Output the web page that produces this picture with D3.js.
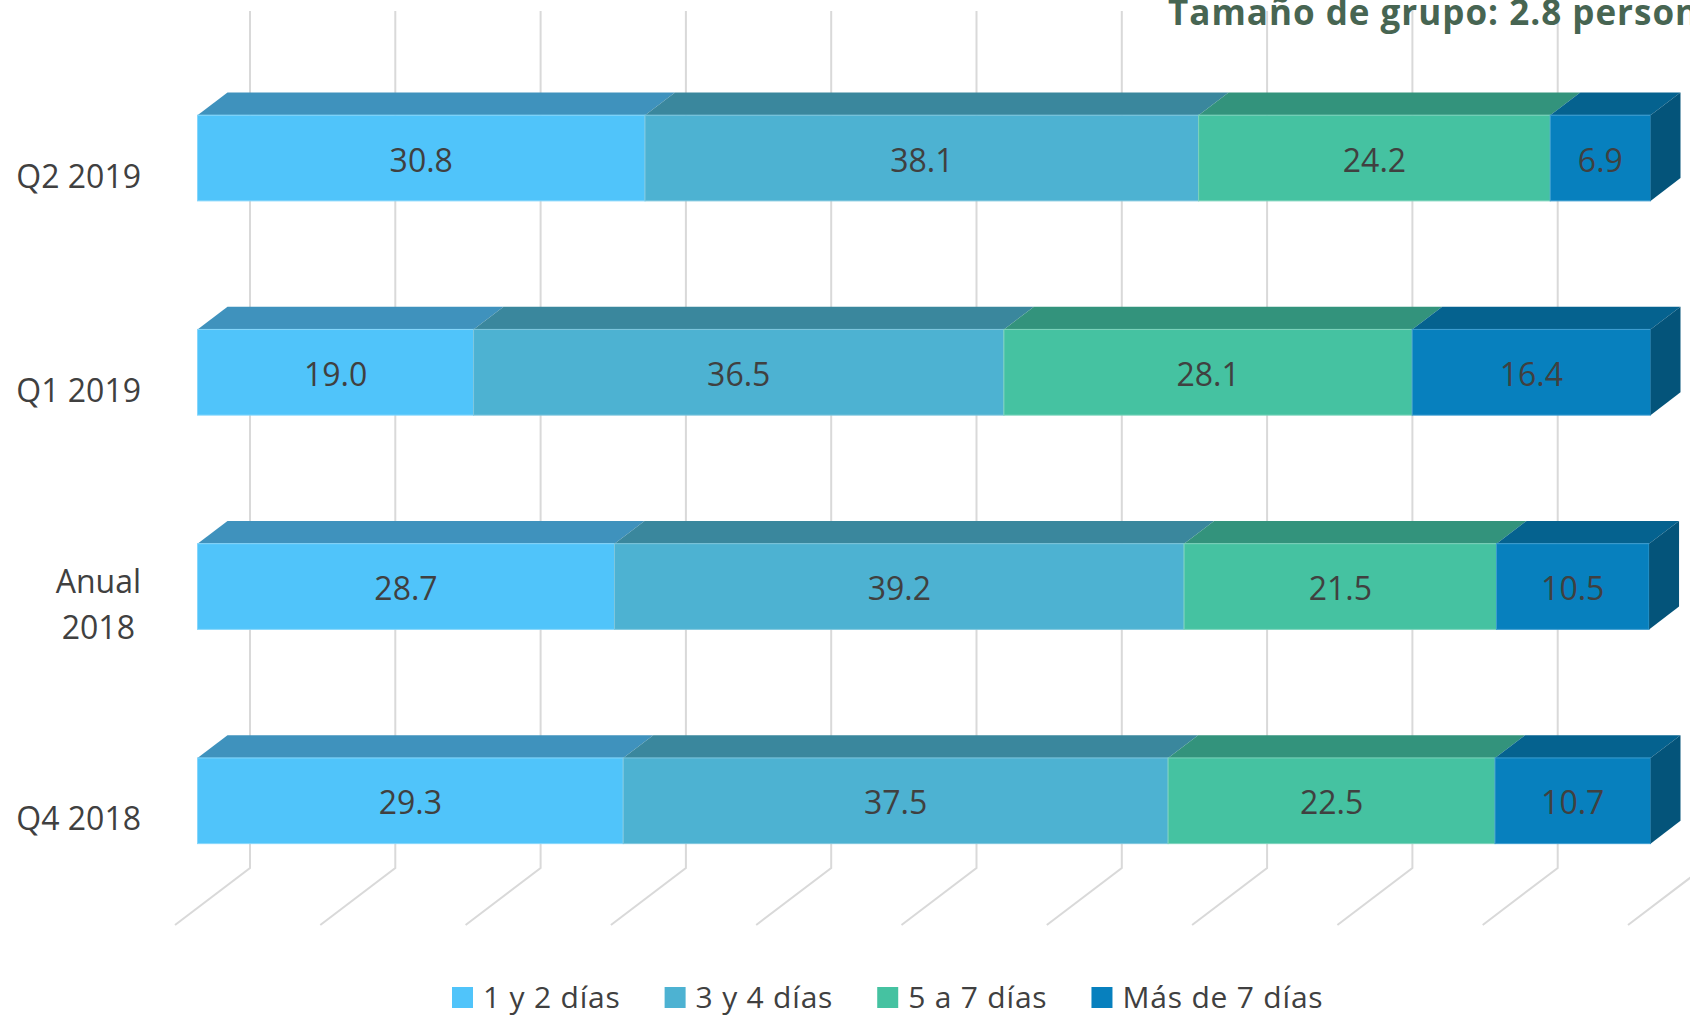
<!DOCTYPE html>
<html>
<head>
<meta charset="utf-8">
<script src="https://cdn.jsdelivr.net/npm/d3@7"></script>
<style>
  html, body { margin: 0; padding: 0; background: #fff; overflow: hidden; }
  svg { display: block; font-family: "Open Sans", sans-serif; }
</style>
</head>
<body>
<svg id="chart" width="1690" height="1017"></svg>
<script>
// categories (top to bottom) and series
const categories = ["Q2 2019", "Q1 2019", "Anual\n2018", "Q4 2018"];
const seriesNames = ["1 y 2 días", "3 y 4 días", "5 a 7 días", "Más de 7 días"];

// values in %, one array per series, in category order
const dias1a2 = [30.8, 19.0, 28.7, 29.3];
const dias3a4 = [38.1, 36.5, 39.2, 37.5];
const dias5a7 = [24.2, 28.1, 21.5, 22.5];
const diasMas7 = [6.9, 16.4, 10.5, 10.7];

const valueTicks = [0, 10, 20, 30, 40, 50, 60, 70, 80, 90, 100];
const titleText = "Tamaño de grupo: 2.8 personas";

// colours: front face, top face, side face
const frontColors = ["#50c4fa", "#4db2d2", "#45c2a1", "#0780be"];
const topColors = ["#3f92bd", "#3a879d", "#33937c", "#05628f"];
const sideColors = ["#328fbf", "#2e7f96", "#2b8a70", "#04547a"];
const edgeColors = ["#86d6fb", "#7ec6dd", "#7cd3bb", "#3d9dd0"];

const seriesValues = [dias1a2, dias3a4, dias5a7, diasMas7];

// table for the stack
const table = categories.map((c, i) => {
  const row = { cat: c };
  seriesNames.forEach((s, j) => { row[s] = seriesValues[j][i]; });
  return row;
});
const stacked = d3.stack().keys(seriesNames)(table);

const svg = d3.select("#chart");

// 3D projection: depth vector of the whole floor
const DX = 75, DY = -57;
const dFront = 0.3, dBack = 0.7;   // bar sits in the middle of the depth

const x = d3.scaleLinear().domain([0, 100]).range([175, 1628]);
const y = d3.scaleBand().domain(categories).range([68, 925])
  .paddingInner(0.6).paddingOuter(0.3);
const bw = y.bandwidth();

// back wall + floor gridlines
const grid = svg.append("g");
grid.selectAll("path")
  .data(valueTicks)
  .enter()
  .append("path")
  .attr("d", v => {
    const xb = x(v) + DX;
    return `M${xb},${68 + DY} L${xb},${925 + DY} L${x(v)},925`;
  })
  .attr("fill", "none")
  .attr("stroke", "#d9d9d9")
  .attr("stroke-width", 2);

// bars
const fx = dFront * DX, fy = dFront * DY;
const bx = dBack * DX, by = dBack * DY;

const layers = svg.append("g").selectAll("g")
  .data(stacked)
  .enter()
  .append("g");

// top faces
layers.selectAll("path.top")
  .data((d, j) => d.map(p => ({ p, j })))
  .enter()
  .append("path")
  .attr("class", "top")
  .attr("d", ({ p }) => {
    const yt = y(p.data.cat);
    const x0 = x(p[0]), x1 = x(p[1]);
    return `M${x0 + fx},${yt + fy} L${x1 + fx},${yt + fy} L${x1 + bx},${yt + by} L${x0 + bx},${yt + by}Z`;
  })
  .attr("fill", d => topColors[d.j]);

// front faces
layers.selectAll("rect.front")
  .data((d, j) => d.map(p => ({ p, j })))
  .enter()
  .append("rect")
  .attr("class", "front")
  .attr("x", ({ p }) => x(p[0]) + fx)
  .attr("y", ({ p }) => y(p.data.cat) + fy)
  .attr("width", ({ p }) => x(p[1]) - x(p[0]))
  .attr("height", bw)
  .attr("fill", d => frontColors[d.j])
  .attr("stroke", d => edgeColors[d.j])
  .attr("stroke-width", 1);

// right side of the last segment
const last = stacked[stacked.length - 1];
svg.append("g").selectAll("path")
  .data(last)
  .enter()
  .append("path")
  .attr("d", p => {
    const yt = y(p.data.cat);
    const x1 = x(p[1]);
    return `M${x1 + fx},${yt + fy} L${x1 + bx},${yt + by} L${x1 + bx},${yt + by + bw} L${x1 + fx},${yt + fy + bw}Z`;
  })
  .attr("fill", sideColors[sideColors.length - 1]);

// value labels
layers.selectAll("text")
  .data((d, j) => d.map(p => ({ p, j })))
  .enter()
  .append("text")
  .attr("x", ({ p }) => (x(p[0]) + x(p[1])) / 2 + fx)
  .attr("y", ({ p }) => y(p.data.cat) + fy + bw / 2 + 1)
  .attr("text-anchor", "middle")
  .attr("dominant-baseline", "central")
  .style("font-size", "32px")
  .attr("fill", "#404040")
  .text(({ p }) => (p[1] - p[0]).toFixed(1));

// category labels (front plane), right-aligned block, lines centred
const catG = svg.append("g");
categories.forEach(c => {
  const lines = c.split("\n");
  const cy = y(c) + bw / 2;
  const t = catG.append("text")
    .attr("text-anchor", "middle")
    .style("font-size", "32px")
    .attr("fill", "#404040");
  lines.forEach((ln, i) => {
    t.append("tspan")
      .attr("x", 0)
      .attr("y", cy + (i - (lines.length - 1) / 2) * 46)
      .attr("dominant-baseline", "central")
      .text(ln);
  });
  const w = t.node().getBBox().width;
  t.selectAll("tspan").attr("x", 141 - w / 2);
});

// title (runs off the right edge like the original)
svg.append("text")
  .attr("x", 1168)
  .attr("y", 25)
  .style("font-size", "35px")
  .style("font-weight", "bold")
  .style("letter-spacing", "1px")
  .attr("fill", "#476552")
  .text(titleText);

// legend
const legend = svg.append("g");
let lx = 452;
seriesNames.forEach((s, j) => {
  legend.append("rect")
    .attr("x", lx)
    .attr("y", 987)
    .attr("width", 21)
    .attr("height", 21)
    .attr("fill", frontColors[j]);
  const t = legend.append("text")
    .attr("x", lx + 31)
    .attr("y", 1008)
    .style("font-size", "30px")
    .style("letter-spacing", "0.8px")
    .attr("fill", "#404040")
    .text(s);
  lx += 31 + t.node().getComputedTextLength() + 44;
});
</script>
</body>
</html>
